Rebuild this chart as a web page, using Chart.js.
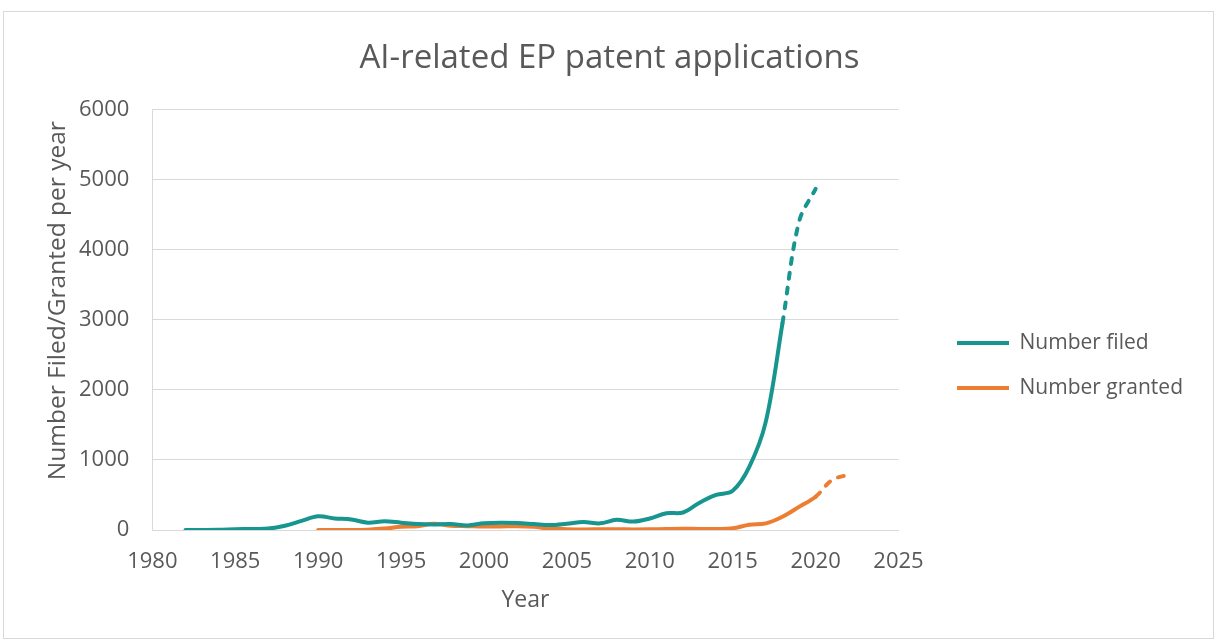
<!DOCTYPE html>
<html>
<head>
<meta charset="utf-8">
<script src="https://cdn.jsdelivr.net/npm/chart.js@4/dist/chart.umd.min.js"></script>
<style>
  html, body { margin: 0; padding: 0; background: #ffffff; }
  #wrap { position: relative; width: 1216px; height: 640px; overflow: hidden; }
  #frame { position: absolute; left: 3px; top: 11px; width: 1209px; height: 626px; border: 1px solid #d9d9d9; box-sizing: content-box; }
  #c { position: absolute; left: 0; top: 0; }
</style>
</head>
<body>
<div id="wrap">
  <div id="frame"></div>
  <canvas id="c" width="1216" height="640"></canvas>
</div>
<script>
// ---- data ----
const filedYears = [1982,1983,1984,1985,1986,1987,1988,1989,1990,1991,1992,1993,1994,1995,1996,1997,1998,1999,2000,2001,2002,2003,2004,2005,2006,2007,2008,2009,2010,2011,2012,2013,2014,2015,2016,2017,2018,2019,2020];
const filedValues = [0,0,2,10,15,20,60,130,195,165,150,105,125,105,85,80,85,65,95,105,100,85,70,90,115,95,145,120,165,240,250,390,500,560,900,1550,2950,4400,4870];
const grantedYears = [1990,1991,1992,1993,1994,1995,1996,1997,1998,1999,2000,2001,2002,2003,2004,2005,2006,2007,2008,2009,2010,2011,2012,2013,2014,2015,2016,2017,2018,2019,2020,2021,2022];
const grantedValues = [0,0,0,5,20,45,55,90,60,55,50,50,55,45,20,12,8,10,12,8,10,15,18,15,15,25,75,95,190,330,475,715,790];
const filedEstimateFrom = 2018;   // dashed (provisional) part starts here
const grantedEstimateFrom = 2020;
const seriesNames = ['Number filed', 'Number granted'];
const xTickMin = 1980, xTickMax = 2025, xTickStep = 5;
const yTickMin = 0, yTickMax = 6000, yTickStep = 1000;

const TEAL = '#17958f';
const ORANGE = '#ed7d31';
const TEXT = '#595959';
const GRID = '#d9d9d9';

Chart.defaults.font.family = "'Open Sans', 'Noto Sans', sans-serif";
Chart.defaults.color = TEXT;

const toPts = (xs, ys) => xs.map((x, i) => ({ x: x, y: ys[i] }));

new Chart(document.getElementById('c'), {
  type: 'line',
  data: {
    datasets: [
      {
        label: seriesNames[0],
        data: toPts(filedYears, filedValues),
        borderColor: TEAL,
        backgroundColor: TEAL,
        borderWidth: 4,
        pointRadius: 0,
        tension: 0.35,
        borderCapStyle: 'round',
        segment: {
          borderDash: ctx => ctx.p0.parsed.x >= filedEstimateFrom ? [6, 9] : undefined
        }
      },
      {
        label: seriesNames[1],
        data: toPts(grantedYears, grantedValues),
        borderColor: ORANGE,
        backgroundColor: ORANGE,
        borderWidth: 4,
        pointRadius: 0,
        tension: 0.35,
        borderCapStyle: 'round',
        segment: {
          borderDash: ctx => ctx.p0.parsed.x >= grantedEstimateFrom ? [6, 9] : undefined
        }
      }
    ]
  },
  options: {
    responsive: false,
    animation: false,
    devicePixelRatio: 1,
    layout: { padding: { left: 26, right: 23, top: 0, bottom: 19 } },
    plugins: {
      title: {
        display: true,
        text: 'AI-related EP patent applications',
        color: TEXT,
        font: { size: 33, weight: 'normal' },
        padding: { top: 39, bottom: 31 }
      },
      legend: {
        position: 'right',
        maxWidth: 400,
        title: { display: true, text: ' ', font: { size: 1 }, padding: { top: 109, bottom: 0 } },
        labels: {
          color: TEXT,
          font: { size: 21 },
          boxWidth: 52,
          boxHeight: 4,
          padding: 24,
          generateLabels(chart) {
            const items = Chart.defaults.plugins.legend.labels.generateLabels(chart);
            items.forEach(it => { it.lineWidth = 0; it.fillStyle = it.strokeStyle; it.lineDash = []; });
            return items;
          }
        }
      },
      tooltip: { enabled: false }
    },
    scales: {
      x: {
        type: 'linear',
        min: xTickMin,
        max: xTickMax,
        ticks: {
          stepSize: xTickStep,
          color: TEXT,
          font: { size: 22 },
          padding: 19,
          maxRotation: 0,
          callback: v => String(v)
        },
        grid: { display: false, drawTicks: false },
        border: { display: true, color: GRID, width: 1 },
        title: {
          display: true,
          text: 'Year',
          color: TEXT,
          font: { size: 23, weight: 'normal' },
          padding: { top: -8, bottom: 7 }
        }
      },
      y: {
        type: 'linear',
        position: 'left',
        min: yTickMin,
        max: yTickMax,
        ticks: {
          stepSize: yTickStep,
          color: TEXT,
          font: { size: 22 },
          padding: 23,
          callback: v => String(v)
        },
        grid: { color: GRID, lineWidth: 1, drawTicks: false },
        border: { display: true, color: GRID, width: 1 },
        title: {
          display: true,
          text: '      Number Filed/Granted per year',
          color: TEXT,
          font: { size: 24.5, weight: 'normal' },
          padding: { top: 17.3, bottom: -16.7 }
        }
      },
      gap: {
        type: 'linear',
        position: 'right',
        display: true,
        grid: { display: false, drawTicks: false },
        border: { display: false },
        ticks: { display: false },
        afterFit: s => { s.width = 34.5; }
      }
    }
  }
});
</script>
</body>
</html>
